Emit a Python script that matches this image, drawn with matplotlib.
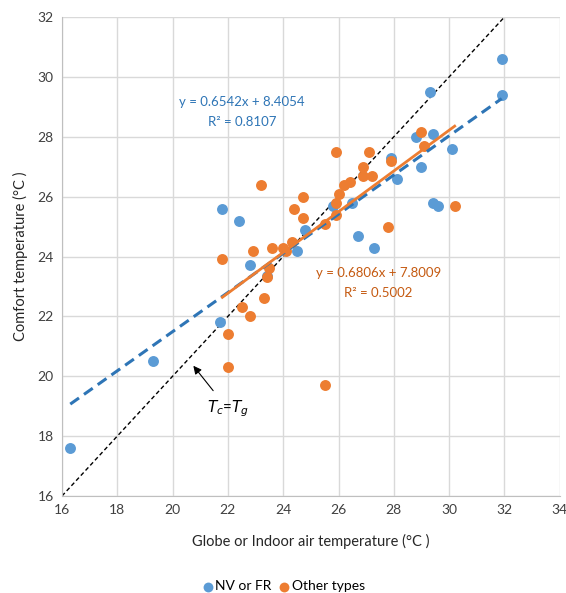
import numpy as np
import matplotlib
matplotlib.use('Agg')
import matplotlib.pyplot as plt

plt.rcParams['font.family'] = ['Lato', 'DejaVu Sans']

# NV or FR buildings
nv_x = [16.3, 19.3, 21.7, 21.8, 22.4, 22.8, 23.4, 24.5, 24.8, 25.8, 26.5, 26.7,
        27.3, 27.9, 28.1, 28.8, 29.0, 29.3, 29.4, 29.4, 29.6, 30.1, 31.9, 31.9]
nv_y = [17.6, 20.5, 21.8, 25.6, 25.2, 23.7, 23.35, 24.2, 24.9, 25.7, 25.8, 24.7,
        24.3, 27.3, 26.6, 28.0, 27.0, 29.5, 28.1, 25.8, 25.7, 27.6, 30.6, 29.4]

# Other building types
ot_x = [21.8, 22.0, 22.0, 22.5, 22.8, 22.9, 23.2, 23.3, 23.4, 23.5, 23.6, 24.0,
        24.1, 24.3, 24.4, 24.7, 24.7, 25.5, 25.5, 25.9, 25.9, 25.9, 26.0, 26.2,
        26.4, 26.9, 26.9, 27.1, 27.2, 27.8, 27.9, 29.0, 29.1, 30.2]
ot_y = [23.9, 21.4, 20.3, 22.3, 22.0, 24.2, 26.4, 22.6, 23.3, 23.6, 24.3, 24.3,
        24.2, 24.5, 25.6, 26.0, 25.3, 25.1, 19.7, 27.5, 25.8, 25.4, 26.1, 26.4,
        26.5, 27.0, 26.7, 27.5, 26.7, 25.0, 27.2, 28.15, 27.7, 25.7]

# trendline coefficients (slope, intercept)
nv_fit = (0.6542, 8.4054)
ot_fit = (0.6806, 7.8009)
nv_r2 = 0.8107
ot_r2 = 0.5002

blue = '#5B9BD5'
orange = '#ED7D31'

fig = plt.figure(figsize=(5.66, 5.93), dpi=100)
ax = fig.add_axes([0.1095, 0.1636, 0.8795, 0.8077])

# identity line Tc = Tg
ident = np.array([16, 32])
ax.plot(ident, ident, color='black', lw=1.0, ls=(0, (3, 2)), zorder=2)

ax.scatter(nv_x, nv_y, s=62, color=blue, zorder=3, label='NV or FR', linewidths=0)
ax.scatter(ot_x, ot_y, s=62, color=orange, zorder=4, label='Other types', linewidths=0)

# trendlines
xs = np.array([min(nv_x), max(nv_x)])
ax.plot(xs, nv_fit[0] * xs + nv_fit[1], color='#2E75B6', lw=2.2,
        ls=(0, (3.5, 2)), zorder=5)
xs = np.array([min(ot_x), max(ot_x)])
ax.plot(xs, ot_fit[0] * xs + ot_fit[1], color=orange, lw=2.0, zorder=5)

ax.text(22.5, 28.83, f'y = {nv_fit[0]}x + {nv_fit[1]}\nR² = {nv_r2}',
        color='#2E75B6', fontsize=9.5, ha='center', va='center', linespacing=1.75)
ax.text(27.45, 23.11, f'y = {ot_fit[0]}x + {ot_fit[1]}\nR² = {ot_r2}',
        color='#C55A11', fontsize=9.5, ha='center', va='center', linespacing=1.75)

ax.annotate('$T_c$=$T_g$', xy=(20.75, 20.35), xytext=(22.0, 18.9),
            fontsize=11, ha='center', va='center',
            arrowprops=dict(arrowstyle='-|>', color='black', lw=0.8,
                            shrinkA=5, shrinkB=0, mutation_scale=12))

ax.set_xlim(16, 34)
ax.set_ylim(16, 32)
ax.set_xticks(np.arange(16, 35, 2))
ax.set_yticks(np.arange(16, 33, 2))
ax.tick_params(length=0, labelsize=10, colors='#404040', pad=6)
ax.grid(True, color='#D9D9D9', lw=1.0)
ax.set_axisbelow(True)
for side in ['top', 'right']:
    ax.spines[side].set_visible(False)
for side in ['left', 'bottom']:
    ax.spines[side].set_color('#BFBFBF')

ax.set_xlabel('Globe or Indoor air temperature (°C )', fontsize=10.5, color='#262626', labelpad=13)
ax.set_ylabel('Comfort temperature (°C )', fontsize=10.5, color='#262626', labelpad=7)

fig.legend(loc='lower center', bbox_to_anchor=(0.5, -0.02), ncol=2, frameon=False,
           fontsize=10, handletextpad=0.05, columnspacing=0.4, handlelength=1.0,
           markerscale=0.9)

fig.savefig('out.png', dpi=100)
